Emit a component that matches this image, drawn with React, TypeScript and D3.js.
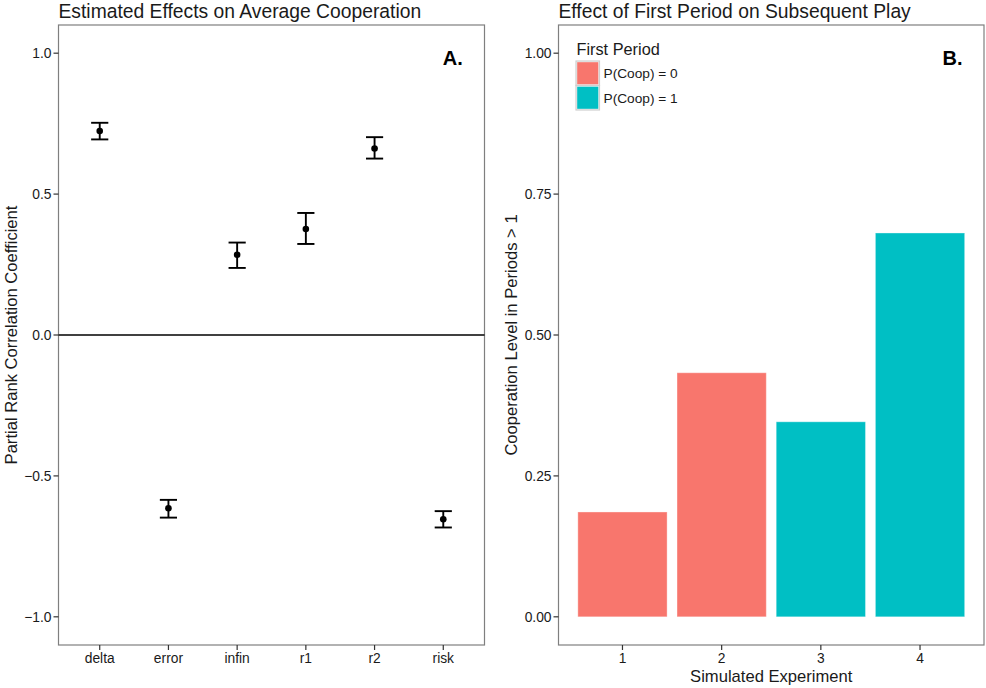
import React from 'react';
import * as d3 from 'd3';

const params = ['delta', 'error', 'infin', 'r1', 'r2', 'risk'];
const prcc = [0.724, -0.615, 0.285, 0.376, 0.662, -0.654];
const prccLow = [0.694, -0.648, 0.238, 0.323, 0.626, -0.683];
const prccHigh = [0.753, -0.585, 0.328, 0.433, 0.702, -0.625];
const prccTicks = [-1.0, -0.5, 0.0, 0.5, 1.0];

const experiments = ['1', '2', '3', '4'];
const coopLevel = [0.186, 0.433, 0.346, 0.681];
const firstPeriod = ['P(Coop) = 0', 'P(Coop) = 0', 'P(Coop) = 1', 'P(Coop) = 1'];
const groups = ['P(Coop) = 0', 'P(Coop) = 1'];
const groupColors = ['#F8766D', '#00BFC4'];
const coopTicks = [0, 0.25, 0.5, 0.75, 1.0];

const W = 986;
const H = 688;
const FONT = '"Liberation Sans", Arial, Helvetica, sans-serif';
const TEXT = '#1a1a1a';

const panelA = { left: 58.5, right: 484.5, top: 25, bottom: 645 };
const panelB = { left: 558.5, right: 984, top: 25, bottom: 645 };

const App: React.FC = () => {
  // panel A scales
  const xA = d3.scalePoint<string>().domain(params).range([panelA.left, panelA.right]).padding(0.6);
  const stepA = xA.step();
  const yA = d3.scaleLinear().domain([-1.1, 1.1]).range([panelA.bottom, panelA.top]);

  // panel B scales
  const xB = d3.scaleLinear().domain([0.355, 4.645]).range([panelB.left, panelB.right]);
  const yB = d3.scaleLinear().domain([-0.05, 1.05]).range([panelB.bottom, panelB.top]);
  const colour = d3.scaleOrdinal<string, string>().domain(groups).range(groupColors);
  const barW = xB(0.9) - xB(0);

  const fmtA = d3.format('.1f');
  const fmtB = d3.format('.2f');
  const minus = (s: string) => s.replace('-', '\u2212');

  return (
    <svg width={W} height={H} style={{ position: 'absolute', left: 0, top: 0, background: '#fff' }} fontFamily={FONT}>
      <rect width={W} height={H} fill="#fff" />

      {/* ---------- Panel A ---------- */}
      <text x={panelA.left} y={18} fontSize={19.3} fill={TEXT}>Estimated Effects on Average Cooperation</text>
      <rect x={panelA.left} y={panelA.top} width={panelA.right - panelA.left} height={panelA.bottom - panelA.top}
        fill="none" stroke="#7f7f7f" strokeWidth={1.2} />
      <line x1={panelA.left} x2={panelA.right} y1={yA(0)} y2={yA(0)} stroke="#000" strokeWidth={1.6} />
      {params.map((p, i) => {
        const cx = xA(p)!;
        const hw = stepA * 0.125;
        return (
          <g key={p} stroke="#000" strokeWidth={1.9}>
            <line x1={cx} x2={cx} y1={yA(prccLow[i])} y2={yA(prccHigh[i])} />
            <line x1={cx - hw} x2={cx + hw} y1={yA(prccLow[i])} y2={yA(prccLow[i])} />
            <line x1={cx - hw} x2={cx + hw} y1={yA(prccHigh[i])} y2={yA(prccHigh[i])} />
            <circle cx={cx} cy={yA(prcc[i])} r={3.3} fill="#000" stroke="none" />
          </g>
        );
      })}
      {prccTicks.map(t => (
        <g key={t}>
          <line x1={panelA.left - 5} x2={panelA.left} y1={yA(t)} y2={yA(t)} stroke="#333" strokeWidth={1.2} />
          <text x={panelA.left - 7} y={yA(t)} dy="0.36em" textAnchor="end" fontSize={13.8} fill={TEXT}>{minus(fmtA(t))}</text>
        </g>
      ))}
      {params.map(p => (
        <g key={p}>
          <line x1={xA(p)} x2={xA(p)} y1={panelA.bottom} y2={panelA.bottom + 5} stroke="#333" strokeWidth={1.2} />
          <text x={xA(p)} y={663} textAnchor="middle" fontSize={13.8} fill={TEXT}>{p}</text>
        </g>
      ))}
      <text transform={`translate(17,${(panelA.top + panelA.bottom) / 2}) rotate(-90)`} textAnchor="middle"
        fontSize={16.6} fill={TEXT}>Partial Rank Correlation Coefficient</text>
      <text x={452.7} y={65} textAnchor="middle" fontSize={20} fontWeight="bold" fill="#000">A.</text>

      {/* ---------- Panel B ---------- */}
      <text x={panelB.left} y={18} fontSize={19.3} fill={TEXT}>Effect of First Period on Subsequent Play</text>
      {experiments.map((e, i) => (
        <rect key={e} x={xB(i + 1) - barW / 2} y={yB(coopLevel[i])} width={barW} height={yB(0) - yB(coopLevel[i])}
          fill={colour(firstPeriod[i])} stroke="rgba(255,255,255,0.35)" strokeWidth={1} />
      ))}
      <rect x={panelB.left} y={panelB.top} width={panelB.right - panelB.left} height={panelB.bottom - panelB.top}
        fill="none" stroke="#7f7f7f" strokeWidth={1.2} />
      {coopTicks.map(t => (
        <g key={t}>
          <line x1={panelB.left - 5} x2={panelB.left} y1={yB(t)} y2={yB(t)} stroke="#333" strokeWidth={1.2} />
          <text x={panelB.left - 7} y={yB(t)} dy="0.36em" textAnchor="end" fontSize={13.8} fill={TEXT}>{fmtB(t)}</text>
        </g>
      ))}
      {experiments.map((e, i) => (
        <g key={e}>
          <line x1={xB(i + 1)} x2={xB(i + 1)} y1={panelB.bottom} y2={panelB.bottom + 5} stroke="#333" strokeWidth={1.2} />
          <text x={xB(i + 1)} y={663} textAnchor="middle" fontSize={13.8} fill={TEXT}>{e}</text>
        </g>
      ))}
      <text x={(panelB.left + panelB.right) / 2} y={682} textAnchor="middle" fontSize={16.6} fill={TEXT}>Simulated Experiment</text>
      <text transform={`translate(517,${(panelB.top + panelB.bottom) / 2}) rotate(-90)`} textAnchor="middle"
        fontSize={16.6} fill={TEXT}>Cooperation Level in Periods &gt; 1</text>
      <text x={952.5} y={65} textAnchor="middle" fontSize={20} fontWeight="bold" fill="#000">B.</text>

      {/* legend */}
      <text x={576.5} y={55} fontSize={16.3} fill={TEXT}>First Period</text>
      {groups.map((g, i) => (
        <g key={g} transform={`translate(576,${61 + i * 24.5})`}>
          <rect x={0} y={0} width={23.5} height={24.5} fill="#f2f2f2" stroke="#cfcfcf" strokeWidth={1.2} />
          <rect x={1.2} y={1.2} width={21.1} height={22.1} fill={colour(g)} />
          <text x={27.5} y={12.5} dy="0.36em" fontSize={13.7} fill={TEXT}>{g}</text>
        </g>
      ))}
    </svg>
  );
};

export default App;
